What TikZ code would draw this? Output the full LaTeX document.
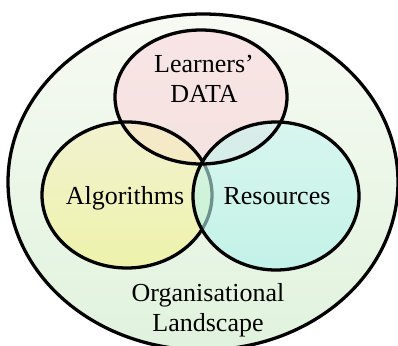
\documentclass[tikz,border=0pt]{standalone}
\usepackage{fontspec}
\setmainfont{Liberation Serif}
\definecolor{landtop}{RGB}{247,250,243}
\definecolor{landbot}{RGB}{224,243,221}
\definecolor{datapink}{RGB}{250,214,220}
\definecolor{algotop}{RGB}{244,240,190}
\definecolor{algobot}{RGB}{244,241,133}
\definecolor{restop}{RGB}{200,245,240}
\definecolor{resbot}{RGB}{173,241,236}
\tikzset{
	venn/.style={line width=2.8pt},
	setfill/.style={fill opacity=.6},
	lbl/.style={font=\fontsize{22.2}{26}\selectfont, align=center, inner sep=0pt}
}
\begin{document}
\begin{tikzpicture}
	\clip (0,0) rectangle (11.94,-10.35);
	% landscape round everything
	\draw [venn, top color=landtop, bottom color=landbot] (6.09,-5.46) ellipse (5.85 and 5.04);
	% the three sets; the left outline goes under the right fill
	\path [setfill, fill=datapink] (6.03,-2.91) ellipse (2.58 and 2.01);
	\path [setfill, top color=algotop, bottom color=algobot] (3.81,-5.85) ellipse (2.55 and 2.19);
	\draw [venn] (3.81,-5.85) ellipse (2.55 and 2.19);
	\path [setfill, top color=restop, bottom color=resbot] (8.28,-5.88) ellipse (2.49 and 2.22);
	\draw [venn] (6.03,-2.91) ellipse (2.58 and 2.01);
	\draw [venn] (8.28,-5.88) ellipse (2.49 and 2.22);
	\node [lbl] (data) at (6.12,-2.37) {Learners’\\DATA};
	\node [lbl, anchor=base] (algo) at (3.75,-6.12) {Algorithms};
	\node [lbl, anchor=base] (res) at (8.31,-6.12) {Resources};
	\node [lbl] (land) at (6.24,-9.3) {Organisational\\Landscape};
\end{tikzpicture}
\end{document}
